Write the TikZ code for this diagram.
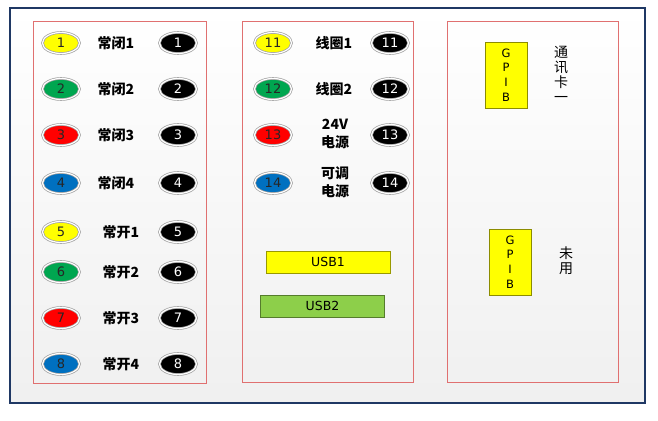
\documentclass[tikz,border=0pt]{standalone}
\usepackage{fontspec}
\setmainfont{DejaVu Sans}
\newfontfamily\cjk{Noto Sans CJK SC}
\usetikzlibrary{shapes.geometric}
\definecolor{navy}{HTML}{1F3864}
\definecolor{panelred}{HTML}{E07070}
\definecolor{jyellow}{HTML}{FFFF00}
\definecolor{jgreen}{HTML}{00A650}
\definecolor{jred}{HTML}{FF0000}
\definecolor{jblue}{HTML}{0070C0}
\definecolor{usbgreen}{HTML}{8DCF4A}
\begin{document}
\begin{tikzpicture}[x=1pt,y=-1pt,
  jack/.style={ellipse, draw=gray!75, double=white, double distance=1.2pt, line width=0.7pt,
    minimum width=37pt, minimum height=21pt, inner sep=0pt,
    font=\fontsize{13}{13}\selectfont},
  cjack/.style={jack, fill=#1, text=black!85},
  bjack/.style={jack, fill=black, text=white},
  lbl/.style={font=\cjk\bfseries\fontsize{14}{18}\selectfont, align=center, inner sep=0pt},
  vlbl/.style={font=\cjk\fontsize{14}{15}\selectfont, align=center, inner sep=0pt},
  panel/.style={draw=panelred, line width=0.8pt},
  usb/.style={draw=#1!60!black, line width=0.7pt, fill=#1, minimum width=124pt, minimum height=22pt,
    inner sep=0pt, font=\fontsize{12.5}{12.5}\selectfont},
  gpib/.style={draw=jyellow!55!black, line width=0.7pt, fill=jyellow, minimum width=42pt,
    minimum height=66pt, inner sep=0pt, align=center, font=\fontsize{11.5}{14.7}\selectfont},
]
\useasboundingbox (0,0) rectangle (658,420);
% outer frame
\path[top color=white, bottom color=gray!12] (10,8) rectangle (645,403);
\draw[navy, line width=1.8pt] (10,8) rectangle (645,403);
% panels
\draw[panel] (33,21) rectangle (206,383);
\draw[panel] (242,21) rectangle (413,382);
\draw[panel] (447,21) rectangle (618,382);
% left panel
\foreach \n/\y/\c/\t/\lx in {1/43/jyellow/常闭1/116, 2/89/jgreen/常闭2/116, 3/135/jred/常闭3/116, 4/183/jblue/常闭4/116,
  5/232/jyellow/常开1/121, 6/272/jgreen/常开2/121, 7/318/jred/常开3/121, 8/364/jblue/常开4/121}{
  \node[cjack=\c] (c\n) at (61,\y) {\n};
  \node[lbl] (l\n) at (\lx,\y) {\t};
  \node[bjack] (b\n) at (178,\y) {\n};
}
% middle panel
\foreach \n/\y/\c in {11/43/jyellow, 12/89/jgreen, 13/135/jred, 14/183/jblue}{
  \node[cjack=\c] (c\n) at (273,\y) {\n};
  \node[bjack] (b\n) at (390,\y) {\n};
}
\node[lbl] (l11) at (334,43) {线圈1};
\node[lbl] (l12) at (334,89) {线圈2};
\node[lbl] (l13) at (335,134) {24V\\电源};
\node[lbl] (l14) at (335,182) {可调\\电源};
\node[usb=jyellow] (usb1) at (328,262) {USB1};
\node[usb=usbgreen] (usb2) at (322.5,306) {USB2};
% right panel
\node[gpib] (g1) at (506,75) {G\\P\\I\\B};
\node[vlbl] (t1) at (561,74) {通\\讯\\卡\\一};
\node[gpib] (g2) at (510,262) {G\\P\\I\\B};
\node[vlbl] (t2) at (566,260.5) {未\\用};
\end{tikzpicture}
\end{document}
